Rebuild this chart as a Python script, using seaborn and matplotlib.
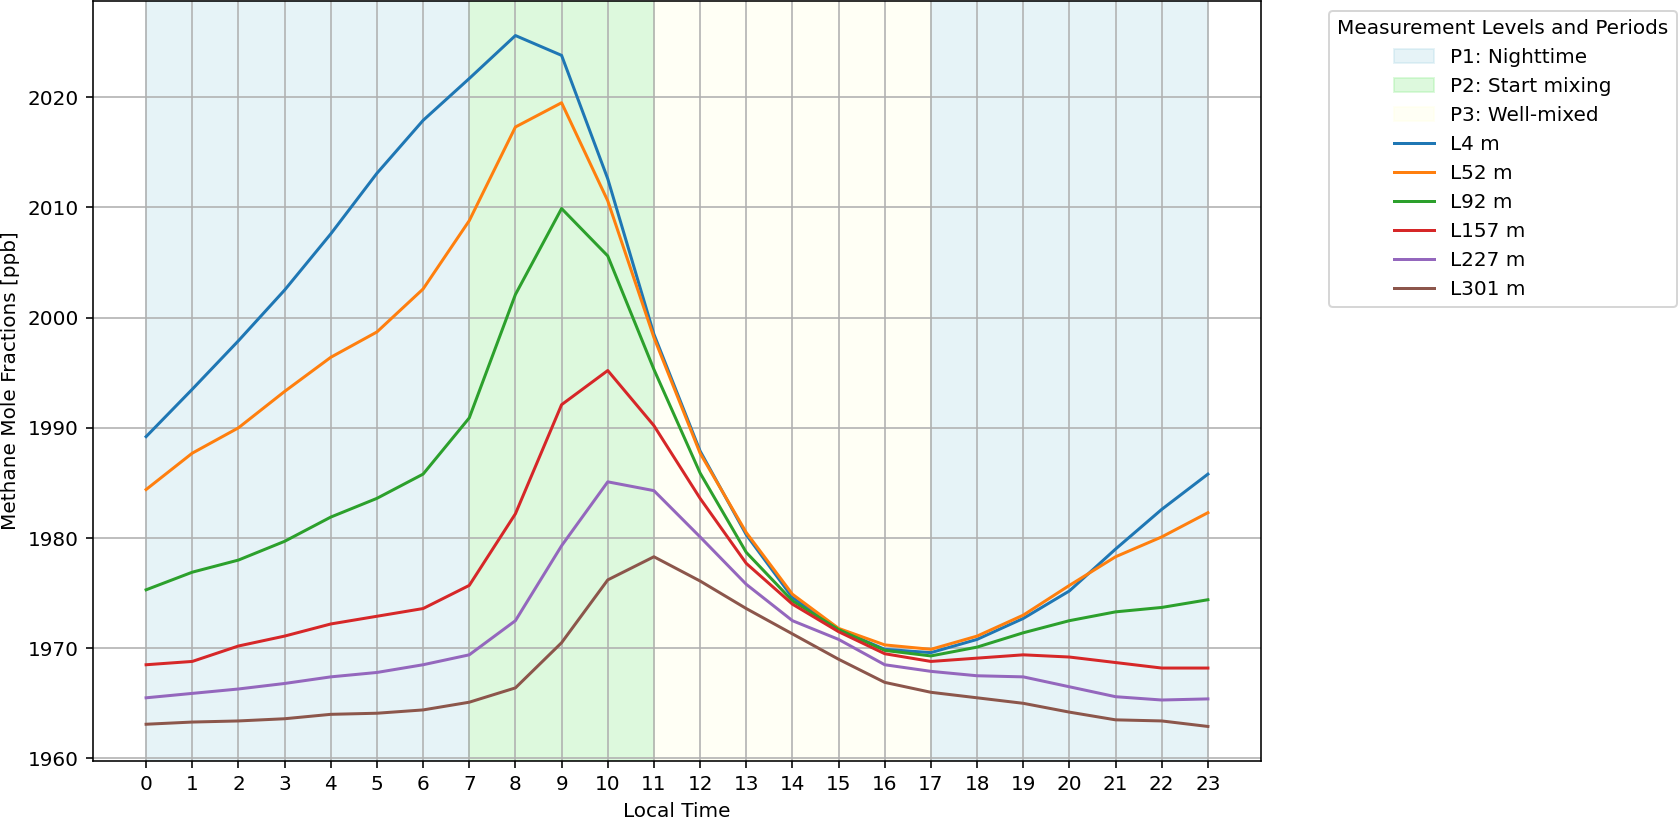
import numpy as np
import pandas as pd
import matplotlib
matplotlib.use("Agg")
import matplotlib.pyplot as plt
import seaborn as sns

hours = list(range(24))
levels = ["L4 m", "L52 m", "L92 m", "L157 m", "L227 m", "L301 m"]

l4 = [1989.2, 1993.5, 1997.9, 2002.5, 2007.6, 2013.1, 2017.9, 2021.7, 2025.6, 2023.8, 2012.6, 1998.5,
      1987.9, 1980.3, 1974.6, 1971.7, 1969.9, 1969.6, 1970.8, 1972.7, 1975.2, 1979.0, 1982.6, 1985.8]
l52 = [1984.4, 1987.7, 1990.0, 1993.3, 1996.4, 1998.7, 2002.6, 2008.8, 2017.3, 2019.5, 2010.6, 1998.2,
       1987.7, 1980.5, 1974.9, 1971.8, 1970.3, 1969.9, 1971.1, 1973.0, 1975.7, 1978.3, 1980.1, 1982.3]
l92 = [1975.3, 1976.9, 1978.0, 1979.7, 1981.9, 1983.6, 1985.8, 1990.9, 2002.1, 2009.9, 2005.6, 1995.3,
       1985.9, 1978.7, 1974.3, 1971.7, 1969.8, 1969.3, 1970.1, 1971.4, 1972.5, 1973.3, 1973.7, 1974.4]
l157 = [1968.5, 1968.8, 1970.2, 1971.1, 1972.2, 1972.9, 1973.6, 1975.7, 1982.2, 1992.1, 1995.2, 1990.2,
        1983.6, 1977.7, 1974.0, 1971.5, 1969.5, 1968.8, 1969.1, 1969.4, 1969.2, 1968.7, 1968.2, 1968.2]
l227 = [1965.5, 1965.9, 1966.3, 1966.8, 1967.4, 1967.8, 1968.5, 1969.4, 1972.5, 1979.3, 1985.1, 1984.3,
        1980.1, 1975.8, 1972.5, 1970.8, 1968.5, 1967.9, 1967.5, 1967.4, 1966.5, 1965.6, 1965.3, 1965.4]
l301 = [1963.1, 1963.3, 1963.4, 1963.6, 1964.0, 1964.1, 1964.4, 1965.1, 1966.4, 1970.5, 1976.2, 1978.3,
        1976.1, 1973.6, 1971.3, 1969.0, 1966.9, 1966.0, 1965.5, 1965.0, 1964.2, 1963.5, 1963.4, 1962.9]

periods = ["P1: Nighttime", "P2: Start mixing", "P3: Well-mixed", None]
period_starts = [0, 7, 11, 17]
period_ends = [7, 11, 17, 23]
period_colors = ["lightblue", "lightgreen", "lightyellow", "lightblue"]

series = [l4, l52, l92, l157, l227, l301]
df = pd.DataFrame({
    "Local Time": np.tile(hours, len(levels)),
    "Methane": np.concatenate(series),
    "Level": np.repeat(levels, len(hours)),
})

DPI = 144
fig = plt.figure(figsize=(1679 / DPI, 818 / DPI), dpi=DPI)
W, H = 1679, 818
ax = fig.add_axes([93 / W, 1 - 761 / H, (1261 - 93) / W, (761 - 1) / H])

for lab, s, e, c in zip(periods, period_starts, period_ends, period_colors):
    ax.axvspan(s, e, color=c, alpha=0.3, label=lab if lab else "_nolegend_")

sns.lineplot(data=df, x="Local Time", y="Methane", hue="Level", hue_order=levels,
             palette="tab10", ax=ax, linewidth=1.5)

ax.set_xticks(hours)
ax.set_xlabel("Local Time")
ax.set_ylabel("Methane Mole Fractions [ppb]")
ax.grid(True)

handles, labels = ax.get_legend_handles_labels()
order = [labels.index(l) for l in periods[:3]] + [labels.index(l) for l in levels]
ax.legend([handles[i] for i in order], [labels[i] for i in order],
          title="Measurement Levels and Periods", bbox_to_anchor=(1.05, 1), loc="upper left")

fig.savefig("out.png", dpi=DPI)
